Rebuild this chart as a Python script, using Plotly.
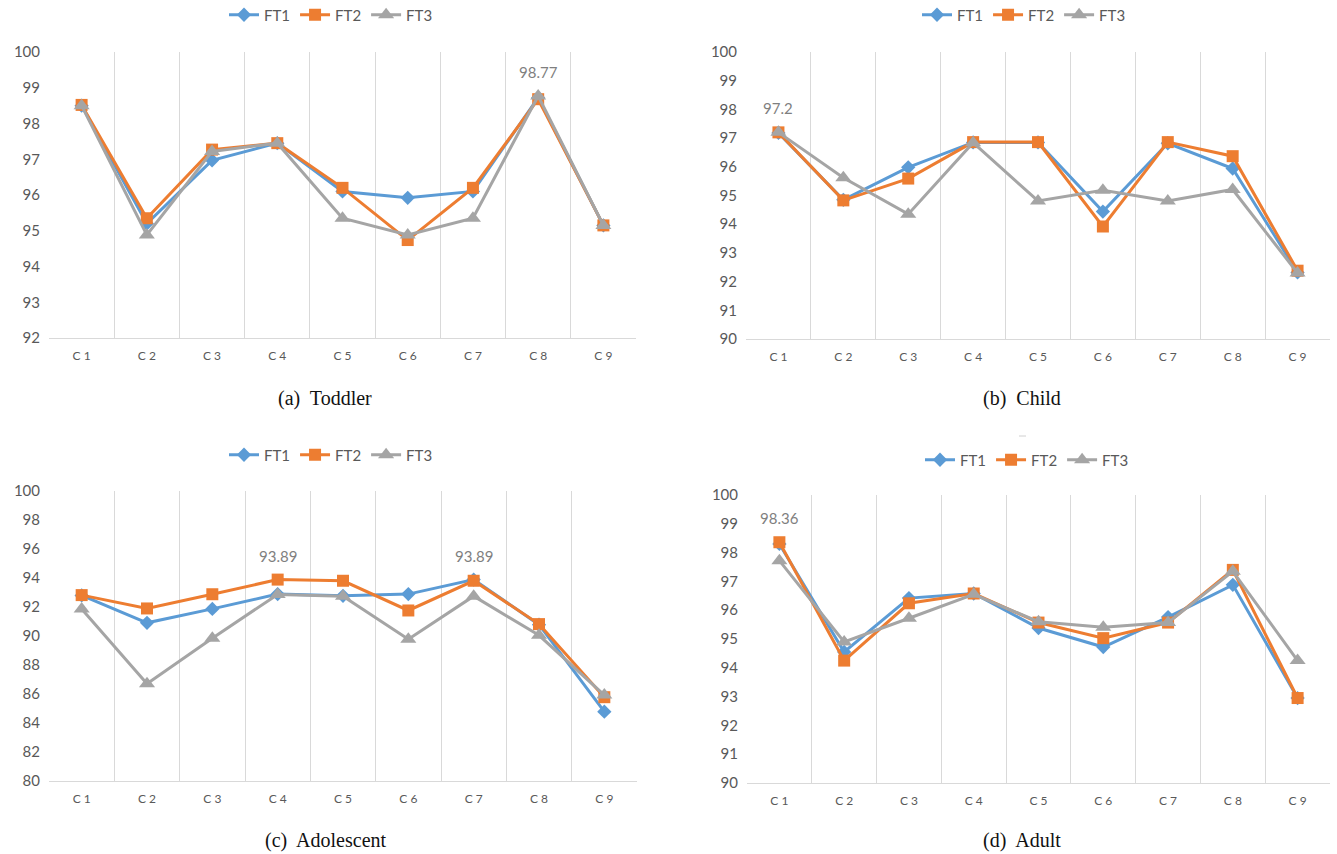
import plotly.graph_objects as go

# Categories and tick labels
categories = ["C1", "C2", "C3", "C4", "C5", "C6", "C7", "C8", "C9"]
tick_labels = ["C 1", "C 2", "C 3", "C 4", "C 5", "C 6", "C 7", "C 8", "C 9"]
series_names = ["FT1", "FT2", "FT3"]

# (a) Toddler
toddler_ft1 = [98.50, 95.20, 96.97, 97.45, 96.10, 95.92, 96.10, 98.72, 95.15]
toddler_ft2 = [98.52, 95.35, 97.27, 97.45, 96.20, 94.74, 96.20, 98.68, 95.15]
toddler_ft3 = [98.50, 94.88, 97.22, 97.45, 95.35, 94.88, 95.35, 98.77, 95.15]

# (b) Child
child_ft1 = [97.18, 94.85, 95.98, 96.85, 96.85, 94.44, 96.82, 95.94, 92.32]
child_ft2 = [97.20, 94.83, 95.59, 96.86, 96.86, 93.92, 96.86, 96.37, 92.38]
child_ft3 = [97.20, 95.62, 94.35, 96.84, 94.81, 95.18, 94.81, 95.21, 92.30]

# (c) Adolescent
adolescent_ft1 = [92.80, 90.91, 91.87, 92.89, 92.77, 92.89, 93.89, 90.78, 84.78]
adolescent_ft2 = [92.82, 91.90, 92.88, 93.89, 93.81, 91.76, 93.81, 90.82, 85.78]
adolescent_ft3 = [91.87, 86.70, 89.85, 92.87, 92.75, 89.78, 92.75, 90.05, 85.93]

# (d) Adult
adult_ft1 = [98.30, 94.55, 96.42, 96.58, 95.38, 94.72, 95.76, 96.88, 92.95]
adult_ft2 = [98.36, 94.25, 96.24, 96.58, 95.57, 95.03, 95.57, 97.40, 92.95]
adult_ft3 = [97.72, 94.90, 95.72, 96.55, 95.60, 95.41, 95.57, 97.35, 94.25]

panel_titles = ["(a)  Toddler", "(b)  Child", "(c)  Adolescent", "(d)  Adult"]
panel_series = [
    [toddler_ft1, toddler_ft2, toddler_ft3],
    [child_ft1, child_ft2, child_ft3],
    [adolescent_ft1, adolescent_ft2, adolescent_ft3],
    [adult_ft1, adult_ft2, adult_ft3],
]
y_ranges = [(92, 100, 1), (90, 100, 1), (80, 100, 2), (90, 100, 1)]

# Data labels: (panel index, series index, category index)
value_labels = [(0, 2, 7), (1, 1, 0), (2, 1, 3), (2, 0, 6), (3, 1, 0)]

W, H = 1337, 854
colors = ["#5B9BD5", "#ED7D31", "#A5A5A5"]
symbols = ["diamond", "square", "triangle-up"]
sizes = [11, 12, 14]
tick_color = "#595959"
grid_color = "#D9D9D9"
base_font = "Lato, 'Open Sans', sans-serif"

# Plot areas in pixels: (left, right, top, bottom)
boxes = [
    (49, 636, 52, 338),
    (746, 1330, 52, 339),
    (49, 637, 491, 781),
    (747, 1330, 495, 783),
]
legend_pos = [(331, 15), (1024, 15), (331, 455), (1027, 460)]
caption_pos = [(325, 398), (1022, 398), (326, 840), (1022, 840)]

fig = go.Figure()
layout = {}
annotations = []

for p in range(4):
    sfx = "" if p == 0 else str(p + 1)
    xa, ya = "x" + sfx, "y" + sfx
    leg = "legend" + sfx
    for s in range(3):
        fig.add_trace(go.Scatter(
            x=categories, y=panel_series[p][s], name=series_names[s],
            mode="lines+markers", xaxis=xa, yaxis=ya, legend=leg,
            line=dict(color=colors[s], width=3),
            marker=dict(symbol=symbols[s], size=sizes[s], color=colors[s],
                        line=dict(width=0)),
            cliponaxis=False,
        ))
    l, r, t, b = boxes[p]
    y0, y1, dy = y_ranges[p]
    layout["xaxis" + sfx] = dict(
        domain=[l / W, r / W], anchor=ya, type="category",
        tickvals=categories, ticktext=tick_labels,
        tickson="boundaries", ticks="", showgrid=True,
        gridcolor=grid_color, gridwidth=1.3,
        showline=True, linecolor=grid_color, linewidth=1.3,
        range=[-0.5, 8.5], zeroline=False,
        tickfont=dict(family=base_font, size=12, color=tick_color),
        ticklabelstandoff=6, fixedrange=True,
    )
    layout["yaxis" + sfx] = dict(
        domain=[1 - b / H, 1 - t / H], anchor=xa,
        range=[y0, y1], dtick=dy, tick0=y0,
        showgrid=False, zeroline=False, showline=False, ticks="",
        tickfont=dict(family=base_font, size=15, color=tick_color),
        ticklabelstandoff=8, fixedrange=True,
    )
    lx, ly = legend_pos[p]
    layout[leg] = dict(
        orientation="h", x=lx / W, y=1 - ly / H,
        xanchor="center", yanchor="middle", xref="paper", yref="paper",
        font=dict(family=base_font, size=15, color=tick_color),
        bgcolor="rgba(0,0,0,0)", itemwidth=30, tracegroupgap=0,
    )
    cx, cy = caption_pos[p]
    annotations.append(dict(
        text=panel_titles[p], x=cx / W, y=1 - cy / H, xref="paper",
        yref="paper", showarrow=False, xanchor="center", yanchor="middle",
        font=dict(family="'Liberation Serif', 'Times New Roman', serif",
                  size=20, color="#111111"),
    ))

for p, s, c in value_labels:
    sfx = "" if p == 0 else str(p + 1)
    v = panel_series[p][s][c]
    annotations.append(dict(
        text=f"{v:g}", x=categories[c], y=v, xref="x" + sfx, yref="y" + sfx,
        showarrow=False, yshift=24, xanchor="center", yanchor="middle",
        font=dict(family=base_font, size=15, color="#7F7F7F"),
    ))

layout["annotations"] = annotations
layout["shapes"] = [dict(
    type="line", xref="paper", yref="paper",
    x0=1019 / W, x1=1026 / W, y0=1 - 436 / H, y1=1 - 436 / H,
    line=dict(color="#D0D0D0", width=1),
)]

fig.update_layout(
    **layout,
    width=W, height=H,
    margin=dict(l=0, r=0, t=0, b=0, autoexpand=False),
    paper_bgcolor="white", plot_bgcolor="white",
    font=dict(family=base_font, color=tick_color),
)

fig.write_html("out.html", config={"displayModeBar": False})
